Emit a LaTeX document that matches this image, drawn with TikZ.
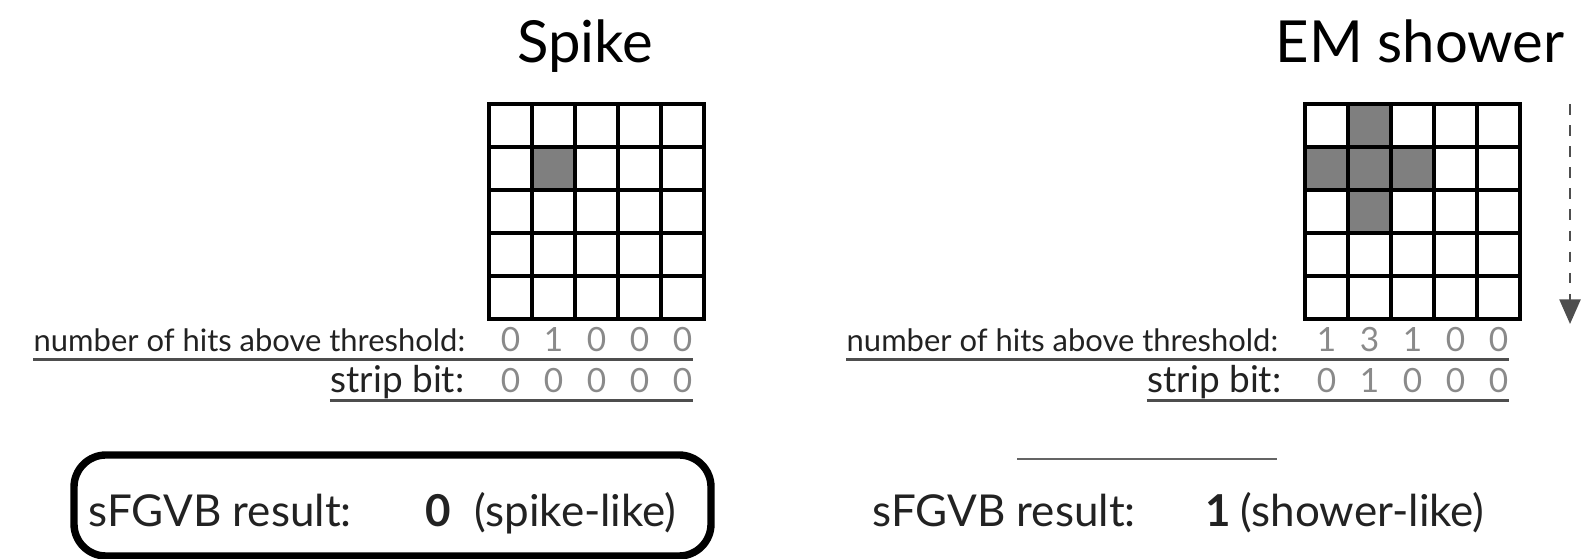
\documentclass[tikz,border=0pt]{standalone}
\usepackage{xcolor}
\usepackage{fontspec}
\setmainfont{Lato}
\usetikzlibrary{
arrows.meta,
positioning
}
\definecolor{hitgrey}{HTML}{7F7F7F}
\definecolor{numgrey}{HTML}{8A8A8A}
\definecolor{inkdark}{HTML}{222222}

\begin{document}
\begin{tikzpicture}[
x=0.01cm, y=-0.01cm,
title/.style={
font=\fontsize{16.5}{20}\selectfont,
anchor=base
},
cell/.style={
draw,
line width=1.3pt,
fill=white,
minimum size=0.43cm,
inner sep=0pt,
outer sep=0pt
},
hit/.style={
cell,
fill=hitgrey
},
lbl/.style={
font=\fontsize{8.8}{10}\selectfont,
text=inkdark,
inner sep=0pt
},
striplbl/.style={
lbl,
font=\fontsize{10.5}{12}\selectfont,
anchor=base east
},
num/.style={
font=\fontsize{9.5}{11}\selectfont,
text=numgrey,
anchor=base,
inner sep=0pt
},
uline/.style={
draw=inkdark!80,
line width=1pt
},
result/.style={
font=\fontsize{12.5}{15}\selectfont,
text=inkdark,
anchor=base west,
inner sep=0pt
}
]
\useasboundingbox (0,0) rectangle (1583,559);

% left panel: spike
\node[title] (spiketitle) at (585,63) {Spike};
\foreach \r in {1,...,5}
  \foreach \c in {1,...,5}
    \node[cell] (sp-\r-\c) at ({489+43*(\c-0.5)},{104+43*(\r-0.5)}) {};
\foreach \r/\c in {2/2}
  \node[hit] (sphit-\r-\c) at (sp-\r-\c) {};

\node[lbl, anchor=base west] (sphits) at (33,352) {number of hits above threshold:};
\node[striplbl] (spstrip) at (465,393) {strip bit:};
\foreach \c/\v in {1/0,2/1,3/0,4/0,5/0}
  \node[num] (sp-h\c) at ({489+43*(\c-0.5)},352) {\v};
\foreach \c/\v in {1/0,2/0,3/0,4/0,5/0}
  \node[num] (sp-s\c) at ({489+43*(\c-0.5)},393) {\v};
\draw[uline] ([yshift=-2.2pt]sphits.base west) -- ([yshift=-2.2pt]sphits.base west -| sp-h5.east);
\draw[uline] ([yshift=-2.2pt]spstrip.base west) -- ([yshift=-2.2pt]spstrip.base west -| sp-s5.east);

\node[result] (spres) at (88,527) {sFGVB result:};
\node[result, font=\fontsize{12.5}{15}\selectfont\bfseries] (spval) at (425,527) {0};
\node[result] (spkind) at (474,527) {(spike-like)};
\draw[line width=2.1pt, rounded corners=0.32cm] (74,455) rectangle (711,556);

% right panel: EM shower
\node[title, anchor=base east] (emtitle) at (1577,63) {EM shower};
\foreach \r in {1,...,5}
  \foreach \c in {1,...,5}
    \node[cell] (em-\r-\c) at ({1305+43*(\c-0.5)},{104+43*(\r-0.5)}) {};
\foreach \r/\c in {1/2,2/1,2/2,2/3,3/2}
  \node[hit] (emhit-\r-\c) at (em-\r-\c) {};

\node[lbl, anchor=base west] (emhits) at (846,352) {number of hits above threshold:};
\node[striplbl] (emstrip) at (1282,393) {strip bit:};
\foreach \c/\v in {1/1,2/3,3/1,4/0,5/0}
  \node[num] (em-h\c) at ({1305+43*(\c-0.5)},352) {\v};
\foreach \c/\v in {1/0,2/1,3/0,4/0,5/0}
  \node[num] (em-s\c) at ({1305+43*(\c-0.5)},393) {\v};
\draw[uline] ([yshift=-2.2pt]emhits.base west) -- ([yshift=-2.2pt]emhits.base west -| em-h5.east);
\draw[uline] ([yshift=-2.2pt]emstrip.base west) -- ([yshift=-2.2pt]emstrip.base west -| em-s5.east);

\coordinate (sepl) at (1017,459);
\coordinate (sepr) at (1277,459);
\draw[inkdark!70, line width=0.5pt] (sepl) -- (sepr);

\node[result] (emres) at (872,527) {sFGVB result:};
\node[result, font=\fontsize{12.5}{15}\selectfont\bfseries] (emval) at (1205,527) {1};
\node[result] (emkind) at (1240,527) {(shower-like)};

% scan direction
\coordinate (scantop) at (1570,104);
\coordinate (scanend) at (1570,324);
\draw[dashed, inkdark!80, line width=0.6pt, -{Triangle[length=7pt,width=6pt]}] (scantop) -- (scanend);

\end{tikzpicture}
\end{document}
